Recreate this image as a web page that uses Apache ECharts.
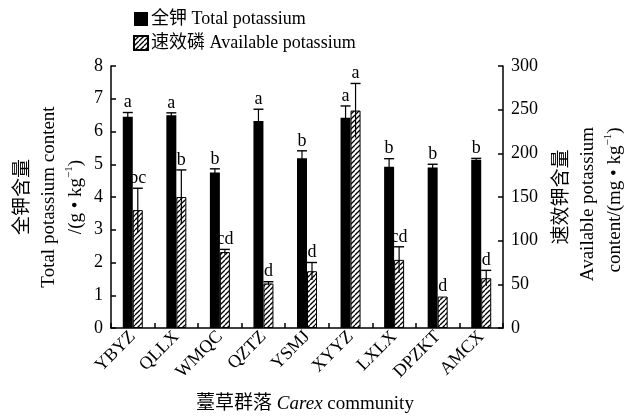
<!DOCTYPE html>
<html>
<head>
<meta charset="utf-8">
<script src="https://cdn.jsdelivr.net/npm/echarts@6/dist/echarts.min.js"></script>
<style>
  html, body { margin: 0; padding: 0; background: #fff; }
  #chart { width: 630px; height: 416px; }
</style>
</head>
<body>
<div id="chart"></div>
<script>
// data
const sites = ['YBYZ', 'QLLX', 'WMQC', 'QZTZ', 'YSMJ', 'XYYZ', 'LXLX', 'DPZKT', 'AMCX'];
const totalK = [6.45, 6.5, 4.75, 6.32, 5.18, 6.42, 4.92, 4.9, 5.14];
const totalKErr = [0.13, 0.07, 0.11, 0.36, 0.23, 0.36, 0.25, 0.1, 0.04];
const totalKLetters = ['a', 'a', 'b', 'a', 'b', 'a', 'b', 'b', 'b'];
const availK = [135, 150, 87, 51, 65, 249, 78, 36, 57];
const availKErr = [25, 31, 3, 2, 10, 31, 15, 0, 9];
const availKLetters = ['bc', 'b', 'cd', 'd', 'd', 'a', 'cd', 'd', 'd'];
const leftTicks = [0, 8, 1];
const rightTicks = [0, 300, 50];

const FONT = "'Liberation Serif', 'Noto Sans CJK SC', serif";

// hatch pattern "////"
const hatch = document.createElement('canvas');
hatch.width = 5; hatch.height = 5;
(function () {
  const c = hatch.getContext('2d');
  c.fillStyle = '#fff';
  c.fillRect(0, 0, 5, 5);
  c.strokeStyle = '#000';
  c.lineWidth = 1.3;
  for (let o = -5; o <= 5; o += 5) {
    c.beginPath();
    c.moveTo(o, 5);
    c.lineTo(o + 5, 0);
    c.stroke();
  }
})();

function errRender(offset, errs, letters) {
  return function (params, api) {
    const i = params.dataIndex;
    const v = api.value(1);
    const e = errs[i];
    const top = api.coord([i, v + e]);
    const bot = api.coord([i, v - e]);
    const px = top[0] + offset;
    const kids = [];
    if (e > 0) {
      kids.push({ type: 'line', shape: { x1: px, y1: bot[1], x2: px, y2: top[1] }, style: { stroke: '#000', lineWidth: 1.2 } });
      kids.push({ type: 'line', shape: { x1: px - 5, y1: top[1], x2: px + 5, y2: top[1] }, style: { stroke: '#000', lineWidth: 1.4 } });
    }
    kids.push({
      type: 'text',
      style: { text: letters[i], x: px, y: top[1] - 1, align: 'center', verticalAlign: 'bottom', font: '18px ' + FONT, fill: '#000' }
    });
    return { type: 'group', children: kids };
  };
}

const chart = echarts.init(document.getElementById('chart'));

const axisCommon = {
  axisLine: { show: true, lineStyle: { color: '#000', width: 1.5 } },
  axisTick: { show: true, inside: true, length: 5, lineStyle: { color: '#000', width: 1.5 } },
  splitLine: { show: false },
  axisLabel: { color: '#000', fontSize: 18, fontFamily: FONT, margin: 8 }
};

const option = {
  animation: false,
  backgroundColor: '#fff',
  grid: { left: 111, right: 127, top: 66, bottom: 88 },
  legend: {
    orient: 'vertical',
    left: 128,
    top: 5,
    itemWidth: 14,
    itemHeight: 14,
    itemGap: 6,
    icon: 'rect',
    textStyle: { color: '#000', fontSize: 18, fontFamily: FONT, padding: [0, 0, 0, -2] },
    data: ['全钾 Total potassium', '速效磷 Available potassium']
  },
  xAxis: {
    type: 'category',
    data: sites,
    ...axisCommon,
    axisLabel: { color: '#000', fontSize: 18, fontFamily: FONT, rotate: 45, margin: 6, interval: 0 }
  },
  yAxis: [
    Object.assign({ type: 'value', min: leftTicks[0], max: leftTicks[1], interval: leftTicks[2], position: 'left' }, axisCommon),
    Object.assign({ type: 'value', min: rightTicks[0], max: rightTicks[1], interval: rightTicks[2], position: 'right' }, axisCommon)
  ],
  series: [
    {
      name: '全钾 Total potassium',
      type: 'bar',
      yAxisIndex: 0,
      data: totalK,
      barWidth: 10,
      barGap: '0%',
      itemStyle: { color: '#000' }
    },
    {
      name: '速效磷 Available potassium',
      type: 'bar',
      yAxisIndex: 1,
      data: availK,
      barWidth: 10,
      barGap: '0%',
      itemStyle: { color: { image: hatch, repeat: 'repeat' }, borderColor: '#000', borderWidth: 1 }
    },
    {
      type: 'custom',
      yAxisIndex: 0,
      data: totalK.map((v, i) => [i, v]),
      renderItem: errRender(-5, totalKErr, totalKLetters),
      z: 5
    },
    {
      type: 'custom',
      yAxisIndex: 1,
      data: availK.map((v, i) => [i, v]),
      renderItem: errRender(5, availKErr, availKLetters),
      z: 5
    }
  ],
  graphic: [
    { type: 'text', x: 23, y: 197, rotation: Math.PI / 2,
      style: { text: '全钾含量', font: '19px ' + FONT, align: 'center', verticalAlign: 'middle', fill: '#000' } },
    { type: 'text', x: 49, y: 197, rotation: Math.PI / 2,
      style: { text: 'Total potassium content', font: '19px ' + FONT, align: 'center', verticalAlign: 'middle', fill: '#000' } },
    { type: 'text', x: 75, y: 197, rotation: Math.PI / 2,
      style: {
        text: '{n|/(g • kg}{s|−1}{n|)}', align: 'center', verticalAlign: 'middle',
        rich: {
          n: { font: '19px ' + FONT, fill: '#000', lineHeight: 22, verticalAlign: 'bottom' },
          s: { font: '11px ' + FONT, fill: '#000', lineHeight: 22, verticalAlign: 'top' }
        }
      } },
    { type: 'text', x: 562, y: 197, rotation: Math.PI / 2,
      style: { text: '速效钾含量', font: '19px ' + FONT, align: 'center', verticalAlign: 'middle', fill: '#000' } },
    { type: 'text', x: 588, y: 204, rotation: Math.PI / 2,
      style: { text: 'Available potassium', font: '19px ' + FONT, align: 'center', verticalAlign: 'middle', fill: '#000' } },
    { type: 'text', x: 614, y: 200, rotation: Math.PI / 2,
      style: {
        text: '{n|content/(mg • kg}{s|−1}{n|)}', align: 'center', verticalAlign: 'middle',
        rich: {
          n: { font: '19px ' + FONT, fill: '#000', lineHeight: 22, verticalAlign: 'bottom' },
          s: { font: '11px ' + FONT, fill: '#000', lineHeight: 22, verticalAlign: 'top' }
        }
      } },
    { type: 'text', x: 305, y: 404,
      style: {
        text: '{n|薹草群落 }{i|Carex}{n| community}', align: 'center', verticalAlign: 'middle',
        rich: {
          n: { font: '19px ' + FONT, fill: '#000' },
          i: { font: 'italic 19px ' + FONT, fill: '#000' }
        }
      } }
  ]
};

chart.setOption(option);
</script>
</body>
</html>
